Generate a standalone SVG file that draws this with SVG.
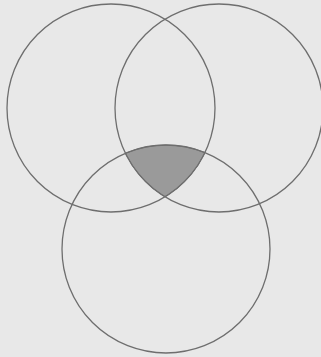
<svg xmlns="http://www.w3.org/2000/svg" width="321" height="357" viewBox="0 0 321 357">
<style>
.c{fill:none;stroke:#6e6e6e;stroke-width:1.3}
.s{fill:#9a9a9a;stroke:#6e6e6e;stroke-width:1}
</style>
<rect width="321" height="357" fill="#e8e8e8"/>
<g id="intersection">
<path class="s" d="M125.4 153.3 A104 104 0 0 1 205 152.6 A104 104 0 0 1 165 196.9 A104 104 0 0 1 125.4 153.3 Z"/>
</g>
<g id="circle-left"><circle class="c" cx="111" cy="108" r="104"/></g>
<g id="circle-right"><circle class="c" cx="219" cy="108" r="104"/></g>
<g id="circle-bottom"><circle class="c" cx="166" cy="249" r="104"/></g>
</svg>
